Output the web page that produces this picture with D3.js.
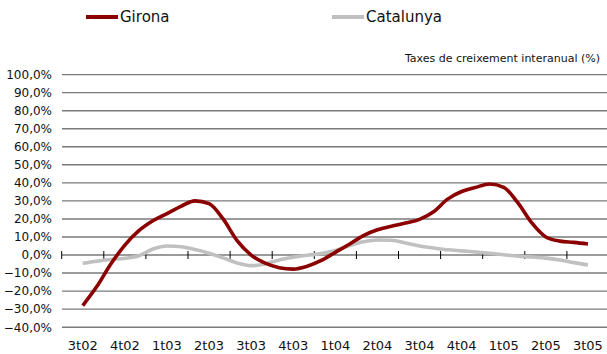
<!DOCTYPE html>
<html>
<head>
<meta charset="utf-8">
<script src="https://cdn.jsdelivr.net/npm/d3@7"></script>
<style>
  html, body { margin: 0; padding: 0; background: #fff; }
  svg { display: block; }
  text { font-family: "DejaVu Sans", sans-serif; fill: #111; }
</style>
</head>
<body>
<svg id="chart" width="607" height="354"></svg>
<script>
// Quarterly category labels (one every 3 months)
const quarters = ["3t02","4t02","1t03","2t03","3t03","4t03","1t04","2t04","3t04","4t04","1t05","2t05","3t05"];
// Monthly readings (percent), 37 points from 3t02 to 3t05
const girona = [-28, -17.5, -5, 5.5, 13.5, 19, 23, 27, 30, 28.5, 20, 8, 0,
  -4.5, -7, -7.8, -6.2, -3, 1.5, 6, 10.8, 14, 16, 17.7, 19.8, 24, 31, 35.2,
  37.5, 39.4, 37.5, 29, 17.8, 10, 7.7, 7, 6.1];
const catalunya = [-4.6, -3.4, -2.5, -1.8, -0.4, 3.3, 5.0, 4.6, 3.0, 1.0, -1.6, -4.4, -5.9,
  -5.0, -2.7, -1.2, -0.1, 0.8, 2.5, 5.2, 7.3, 8.3, 8.2, 6.7, 5.0, 3.9, 2.9, 2.3,
  1.7, 1.0, 0.2, -0.6, -1.1, -1.7, -2.8, -4.2, -5.5];
const yTicks = [100, 90, 80, 70, 60, 50, 40, 30, 20, 10, 0, -10, -20, -30, -40];
const seriesNames = ["Girona", "Catalunya"];
const seriesColors = ["#8b0000", "#c0c0c0"];
const title = "Taxes de creixement interanual (%)";

const svg = d3.select("#chart");
const x = d3.scaleLinear().domain([-1.5, 37.5]).range([61.7, 609]);
const y = d3.scaleLinear().domain([-40, 100]).range([327.2, 74.6]);

// gridlines
svg.append("g").selectAll("line").data(yTicks.filter(d => d !== 0)).join("line")
  .attr("x1", 62).attr("x2", 607)
  .attr("y1", d => y(d)).attr("y2", d => y(d))
  .attr("stroke", "#7a7a7a").attr("stroke-width", 1.4);

// y labels
svg.append("g").selectAll("text").data(yTicks).join("text")
  .attr("x", 52).attr("y", d => y(d))
  .attr("dy", "0.36em")
  .attr("text-anchor", "end")
  .attr("font-size", 12)
  .text(d => d3.format(".1f")(d).replace(".", ",") + "%");

// zero axis
svg.append("line")
  .attr("x1", 62).attr("x2", 607).attr("y1", y(0)).attr("y2", y(0))
  .attr("stroke", "#7a7a7a").attr("stroke-width", 1.4);
const tickPos = d3.range(0, quarters.length).map(i => i * 3 - 1.5);
svg.append("g").selectAll("line").data(tickPos).join("line")
  .attr("x1", d => x(d)).attr("x2", d => x(d))
  .attr("y1", y(0) - 4).attr("y2", y(0) + 4)
  .attr("stroke", "#000").attr("stroke-width", 1);

// x labels
svg.append("g").selectAll("text").data(quarters).join("text")
  .attr("x", (d, i) => x(i * 3)).attr("y", 350)
  .attr("text-anchor", "middle")
  .attr("font-size", 13)
  .text(d => d);

// lines
const line = d3.line().x((d, i) => x(i)).y(d => y(d)).curve(d3.curveMonotoneX);
[catalunya, girona].forEach((s, k) => {
  svg.append("path").attr("d", line(s))
    .attr("fill", "none")
    .attr("stroke", k === 0 ? seriesColors[1] : seriesColors[0])
    .attr("stroke-width", 3.6)
    .attr("stroke-linejoin", "round");
});

// legend
const legendX = [86, 332];
seriesNames.forEach((n, i) => {
  svg.append("line").attr("x1", legendX[i]).attr("x2", legendX[i] + 32)
    .attr("y1", 17).attr("y2", 17)
    .attr("stroke", seriesColors[i]).attr("stroke-width", 4);
  svg.append("text").attr("x", legendX[i] + 34).attr("y", 17).attr("dy", "0.36em")
    .attr("font-family", "Lato, sans-serif")
    .attr("font-size", 15).text(n);
});

// title
svg.append("text").attr("x", 600).attr("y", 62)
  .attr("text-anchor", "end")
  .attr("font-family", "'Liberation Sans', Arial, sans-serif")
  .attr("font-size", 11)
  .text(title);
</script>
</body>
</html>
